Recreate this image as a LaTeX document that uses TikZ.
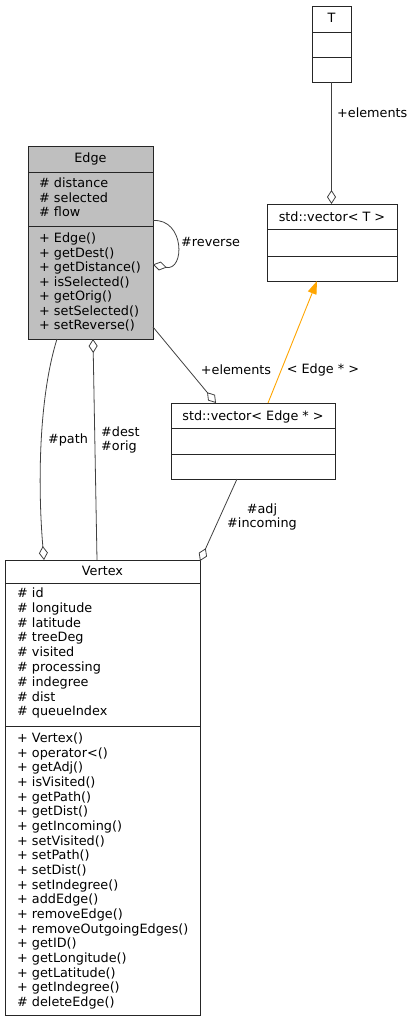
\documentclass[tikz,border=0pt]{standalone}
\usepackage{fontspec}
\setmainfont{DejaVu Sans}
\usetikzlibrary{arrows.meta}
\definecolor{linegray}{HTML}{404040}
\definecolor{edgefill}{HTML}{BFBFBF}
\definecolor{inherit}{HTML}{FFA500}
\begin{document}
\begin{tikzpicture}[x=1pt,y=-1pt,
  font=\fontsize{12.8}{14.6}\selectfont,
  classbox/.style={draw=black!85, line width=1pt, fill=white, inner sep=0pt, outer sep=0pt, anchor=north west},
  sep/.style={draw=black!85, line width=1pt},
  member/.style={anchor=west, inner sep=0pt, text height=9pt, text depth=0pt},
  boxtitle/.style={anchor=center, inner sep=0pt, text height=9pt, text depth=0pt},
  lbl/.style={inner sep=0pt},
  rel/.style={draw=linegray, line width=0.8pt},
  agg/.style={rel, -{Diamond[open, length=14pt, width=9pt, line width=0.8pt]}},
  isa/.style={draw=inherit, line width=0.9pt, -{Triangle[length=13pt, width=9pt]}},
]
\useasboundingbox (0,0) rectangle (415,1021);

% class boxes
\node[classbox, minimum width=39pt, minimum height=76pt] (T) at (312,6) {};
\node[classbox, minimum width=130pt, minimum height=77pt] (vecT) at (267,204) {};
\node[classbox, minimum width=164pt, minimum height=76pt] (vecE) at (171,403) {};
\node[classbox, minimum width=125pt, minimum height=193pt, fill=edgefill] (edge) at (28,146) {};
\node[classbox, minimum width=195pt, minimum height=455pt] (vertex) at (5,560) {};

% compartment separators
\draw[sep] (T.west |- 0,32) -- (T.east |- 0,32);
\draw[sep] (T.west |- 0,57) -- (T.east |- 0,57);
\draw[sep] (vecT.west |- 0,229) -- (vecT.east |- 0,229);
\draw[sep] (vecT.west |- 0,256) -- (vecT.east |- 0,256);
\draw[sep] (vecE.west |- 0,428) -- (vecE.east |- 0,428);
\draw[sep] (vecE.west |- 0,454) -- (vecE.east |- 0,454);
\draw[sep] (edge.west |- 0,172) -- (edge.east |- 0,172);
\draw[sep] (edge.west |- 0,226) -- (edge.east |- 0,226);
\draw[sep] (vertex.west |- 0,583) -- (vertex.east |- 0,583);
\draw[sep] (vertex.west |- 0,726) -- (vertex.east |- 0,726);

% class names
\node[boxtitle] (Tname) at (331.5,18) {T};
\node[boxtitle] (vecTname) at (332,217) {std::vector< T >};
\node[boxtitle] (vecEname) at (253,415.5) {std::vector< Edge * >};
\node[boxtitle] (edgename) at (90.5,157.5) {Edge};
\node[boxtitle] (vertexname) at (102.5,571) {Vertex};

% Edge members
\foreach \t [count=\i] in {\# distance, \# selected, \# flow}
  \node[member] (edgeattr\i) at (39,{183+14.5*(\i-1)}) {\t};
\foreach \t [count=\i] in {+ Edge(), + getDest(), + getDistance(), + isSelected(),
    + getOrig(), + setSelected(), + setReverse()}
  \node[member] (edgeop\i) at (39,{238+14.5*(\i-1)}) {\t};

% Vertex members
\foreach \t [count=\i] in {\# id, \# longitude, \# latitude, \# treeDeg, \# visited,
    \# processing, \# indegree, \# dist, \# queueIndex}
  \node[member] (vertexattr\i) at (17,{593+14.8*(\i-1)}) {\t};
\foreach \t [count=\i] in {+ Vertex(), + operator<(), + getAdj(), + isVisited(),
    + getPath(), + getDist(), + getIncoming(), + setVisited(), + setPath(),
    + setDist(), + setIndegree(), + addEdge(), + removeEdge(),
    + removeOutgoingEdges(), + getID(), + getLongitude(), + getLatitude(),
    + getIndegree(), \# deleteEdge()}
  \node[member] (vertexop\i) at (17,{738+14.67*(\i-1)}) {\t};

% relations
\draw[agg] (T.south) -- (T.south |- vecT.north);
\node[lbl, anchor=west] (lelemT) at (337,113) {+elements};

\draw[agg] ([yshift=22pt]edge.east) .. controls +(32,-2) and +(32,7) .. ([yshift=-22pt]edge.east);
\node[lbl, anchor=west] (lreverse) at (181,242) {\#reverse};

\draw[agg] ([yshift=-84.5pt]edge.east) -- ([xshift=45pt]vecE.north west);
\node[lbl] (lelemE) at (236,370) {+elements};

\draw[isa] ([xshift=97pt]vecE.north west) -- ([xshift=50pt]vecT.south west);
\node[lbl] (ltmpl) at (323,370) {< Edge * >};

\draw[agg] ([xshift=66pt]vecE.south west) -- ([yshift=-1pt]vertex.north east);
\node[lbl, align=center] (ladj) at (262,517) {\#adj\\\#incoming};

\draw[agg] ([xshift=29pt]edge.south west) .. controls (38,400) and (38,490) .. ([xshift=39pt]vertex.north west);
\node[lbl] (lpath) at (68,440) {\#path};

\draw[agg] ([xshift=92pt]vertex.north west) -- ([xshift=65pt]edge.south west);
\node[lbl, align=left, anchor=west] (ldest) at (101,440) {\#dest\\\#orig};
\end{tikzpicture}
\end{document}
